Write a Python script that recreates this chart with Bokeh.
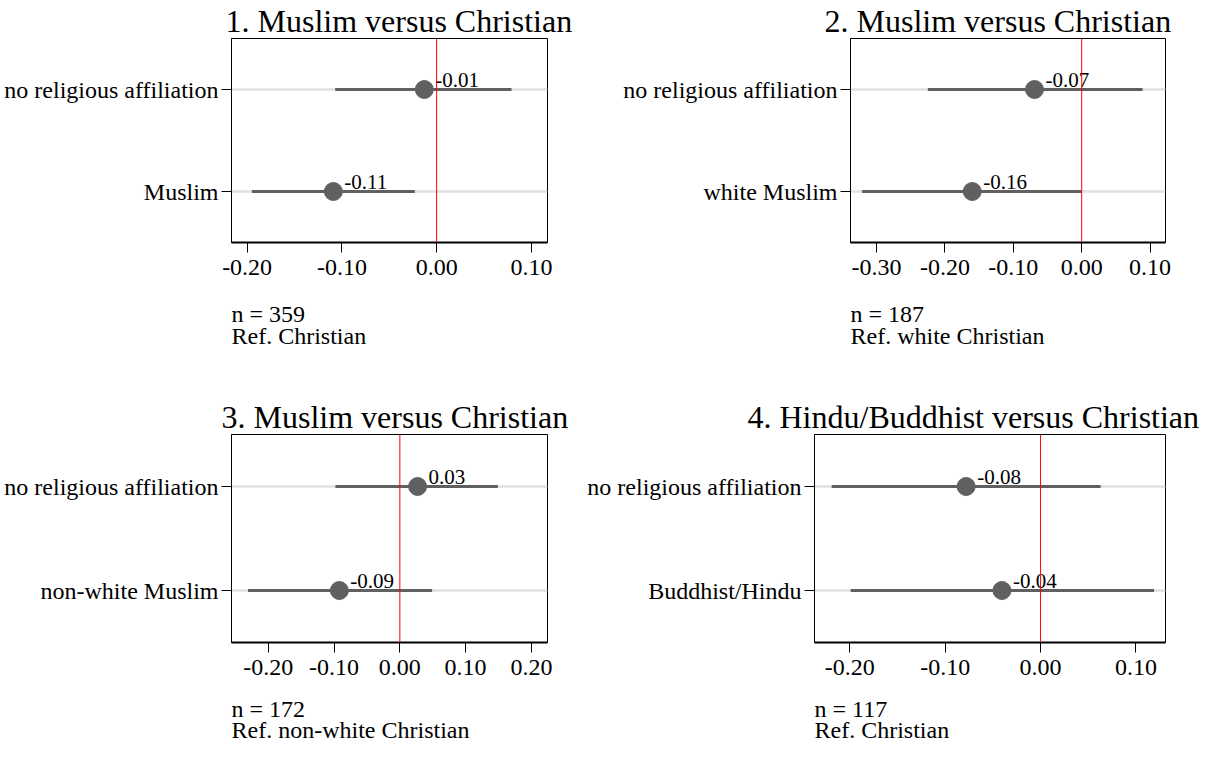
from bokeh.plotting import figure
from bokeh.models import FactorRange, Range1d, FixedTicker, PrintfTickFormatter, Span, Title, Label, ColumnDataSource
from bokeh.layouts import column, row
from bokeh.embed import file_html
from bokeh.resources import INLINE
from bokeh.core.properties import value

FONT = "Liberation Serif"

# ---- data ----
titles = ["1. Muslim versus Christian", "2. Muslim versus Christian",
          "3. Muslim versus Christian", "4. Hindu/Buddhist versus Christian"]
n_notes = ["n = 359", "n = 187", "n = 172", "n = 117"]
ref_notes = ["Ref. Christian", "Ref. white Christian", "Ref. non-white Christian", "Ref. Christian"]

cats1 = ["Muslim", "no religious affiliation"]
est1 = [-0.109, -0.013]
lo1 = [-0.195, -0.107]
hi1 = [-0.023, 0.079]
lab1 = ["-0.11", "-0.01"]
ticks1 = [-0.2, -0.1, 0.0, 0.1]
xlim1 = (-0.2165, 0.117)

cats2 = ["white Muslim", "no religious affiliation"]
est2 = [-0.160, -0.069]
lo2 = [-0.321, -0.225]
hi2 = [0.000, 0.089]
lab2 = ["-0.16", "-0.07"]
ticks2 = [-0.3, -0.2, -0.1, 0.0, 0.1]
xlim2 = (-0.338, 0.1225)

cats3 = ["non-white Muslim", "no religious affiliation"]
est3 = [-0.092, 0.027]
lo3 = [-0.231, -0.098]
hi3 = [0.049, 0.149]
lab3 = ["-0.09", "0.03"]
ticks3 = [-0.2, -0.1, 0.0, 0.1, 0.2]
xlim3 = (-0.256, 0.2245)

cats4 = ["Buddhist/Hindu", "no religious affiliation"]
est4 = [-0.0405, -0.078]
lo4 = [-0.199, -0.219]
hi4 = [0.119, 0.063]
lab4 = ["-0.04", "-0.08"]
ticks4 = [-0.2, -0.1, 0.0, 0.1]
xlim4 = (-0.237, 0.131)


def panel(title, title_shift, cats, est, lo, hi, lab, ticks, xlim,
          width, height, bl, br, bt, bb):
    p = figure(width=width, height=height, output_backend="svg", toolbar_location=None,
               x_range=Range1d(*xlim), y_range=FactorRange(factors=cats),
               min_border_left=bl, min_border_right=br, min_border_top=bt,
               min_border_bottom=bb)
    p.title = Title(text=title, align="left", offset=title_shift, text_font=FONT,
                    text_font_size="32px", text_font_style="normal", standoff=0,
                    text_color="black")
    src = ColumnDataSource(dict(cat=cats, est=est, lo=lo, hi=hi, lab=lab))
    p.hspan(y="cat", source=src, line_color="#e1e1e1", line_width=2.5)
    p.segment(x0="lo", x1="hi", y0="cat", y1="cat", source=src,
              line_color="#606060", line_width=3)
    p.add_layout(Span(location=0, dimension="height", line_color="red", line_width=1))
    p.scatter(x="est", y="cat", source=src, size=18, fill_color="#606060",
              line_color="#606060")
    p.text(x="est", y="cat", text="lab", source=src, x_offset=11, y_offset=-10,
           text_font=value(FONT), text_font_size="21px", text_baseline=value("middle"),
           text_align=value("left"), text_color="black")
    p.xgrid.visible = False
    p.ygrid.visible = False
    p.outline_line_color = "black"
    p.outline_line_width = 1
    p.background_fill_color = "white"
    p.border_fill_color = "white"

    xa = p.xaxis[0]
    xa.ticker = FixedTicker(ticks=ticks)
    xa.formatter = PrintfTickFormatter(format="%.2f")
    xa.axis_line_width = 2
    xa.axis_line_color = "black"
    xa.major_tick_out = 10
    xa.major_tick_in = 0
    xa.minor_tick_out = 0
    xa.minor_tick_in = 0
    xa.major_label_standoff = 7
    xa.major_label_text_font = FONT
    xa.major_label_text_font_size = "24px"
    xa.major_label_text_color = "black"

    ya = p.yaxis[0]
    ya.axis_line_color = "black"
    ya.major_tick_out = 10
    ya.major_tick_in = 0
    ya.major_label_standoff = 3
    ya.major_label_text_font = FONT
    ya.major_label_text_font_size = "24px"
    ya.major_label_text_color = "black"
    ya.major_label_orientation = "horizontal"
    return p


def note(n_text, ref_text, width, height, left, n_mid, ref_mid):
    q = figure(width=width, height=height, output_backend="svg", toolbar_location=None,
               x_axis_location=None, y_axis_location=None, min_border=0,
               x_range=Range1d(0, 1), y_range=Range1d(0, 1))
    q.outline_line_color = None
    q.xgrid.visible = False
    q.ygrid.visible = False
    q.background_fill_color = "white"
    q.border_fill_color = "white"
    for txt, ym in ((n_text, n_mid), (ref_text, ref_mid)):
        q.add_layout(Label(x=left, y=ym, x_units="screen", y_units="screen", text=txt,
                           text_font=FONT, text_font_size="24px", text_baseline="middle",
                           text_align="left", text_color="black"))
    return q


W_L, W_R = 572, 636
p1 = panel(titles[0], -6, cats1, est1, lo1, hi1, lab1, ticks1, xlim1, W_L, 292, 231, 25, 38, 50)
p2 = panel(titles[1], -26, cats2, est2, lo2, hi2, lab2, ticks2, xlim2, W_R, 292, 278, 43, 38, 50)
n1 = note(n_notes[0], ref_notes[0], W_L, 104, 231, 83, 61)
n2 = note(n_notes[1], ref_notes[1], W_R, 104, 278, 83, 61)
p3 = panel(titles[2], -10, cats3, est3, lo3, hi3, lab3, ticks3, xlim3, W_L, 296, 231, 25, 38, 50)
p4 = panel(titles[3], -67, cats4, est4, lo4, hi4, lab4, ticks4, xlim4, W_R, 296, 242, 43, 38, 50)
n3 = note(n_notes[2], ref_notes[2], W_L, 50, 231, 34, 13)
n4 = note(n_notes[3], ref_notes[3], W_R, 50, 242, 34, 13)

layout = column(row(p1, p2), row(n1, n2), row(p3, p4), row(n3, n4))
open("out.html", "w").write(file_html(layout, INLINE))
